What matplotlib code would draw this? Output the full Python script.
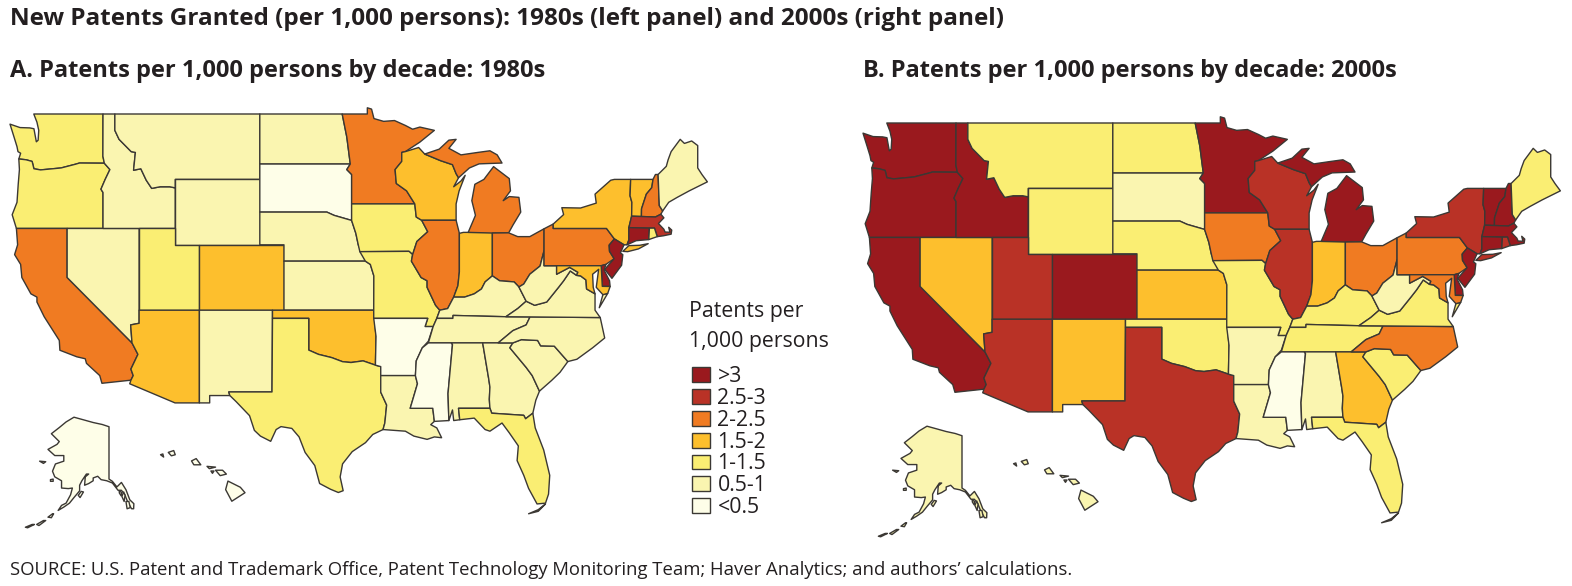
import numpy as np
import matplotlib
matplotlib.use('Agg')
import matplotlib.pyplot as plt
from matplotlib.patches import Patch

plt.rcParams['font.family'] = ['Open Sans', 'DejaVu Sans']

W, H = 1572, 586

states = ['WA', 'OR', 'CA', 'NV', 'ID', 'MT', 'WY', 'UT', 'CO', 'AZ', 'NM', 'ND', 'SD', 'NE', 'KS', 'OK', 'TX',
          'MN', 'IA', 'MO', 'AR', 'LA', 'WI', 'IL', 'IN', 'MI', 'OH', 'KY', 'TN', 'MS', 'AL', 'GA', 'FL', 'SC',
          'NC', 'VA', 'WV', 'PA', 'NY', 'VT', 'NH', 'ME', 'MA', 'CT', 'RI', 'NJ', 'DE', 'MD', 'AK', 'HI']
# only the class is visible so these are class middles
patents_1980s = [1.25, 1.25, 2.25, 0.75, 0.75, 0.75, 0.75, 1.25, 1.75, 1.75, 0.75, 0.75, 0.25, 0.75, 0.75, 1.75, 1.25,
                 2.25, 1.25, 1.25, 0.25, 0.75, 1.75, 2.25, 1.75, 2.25, 2.25, 0.75, 0.75, 0.25, 0.75, 0.75, 1.25, 0.75,
                 0.75, 0.75, 0.75, 2.25, 1.75, 1.75, 2.25, 0.75, 2.75, 3.5, 1.25, 3.5, 3.5, 1.75, 0.25, 0.25]
patents_2000s = [3.5, 3.5, 3.5, 1.75, 3.5, 1.25, 1.25, 2.75, 3.5, 2.75, 1.75, 1.25, 0.75, 1.25, 1.75, 1.25, 2.75,
                 3.5, 2.25, 1.25, 0.75, 0.75, 2.75, 2.75, 1.75, 3.5, 2.25, 1.25, 1.25, 0.25, 0.75, 1.75, 1.25, 1.25,
                 2.25, 1.25, 0.75, 2.25, 2.75, 3.5, 3.5, 1.25, 3.5, 3.5, 2.75, 3.5, 3.5, 2.25, 0.75, 0.75]

bin_edges = [0.5, 1, 1.5, 2, 2.5, 3]
bin_labels = ['<0.5', '0.5-1', '1-1.5', '1.5-2', '2-2.5', '2.5-3', '>3']
bin_colors = ['#fefee8', '#faf5b0', '#faee73', '#fdbf2d', '#f07b22', '#b93226', '#9a191e']

# state outlines, lon/lat
outlines = {
    'WA': [[(-124.73, 48.38), (-123.9, 48.17), (-123.1, 48.15), (-122.75, 48.1), (-122.55, 47.3), (-122.4, 47.4),
            (-122.35, 48.0), (-122.5, 48.5), (-122.76, 49.0), (-117.03, 49.0), (-117.04, 46.42), (-116.92, 45.99),
            (-118.98, 46.0), (-119.3, 45.93), (-120.5, 45.7), (-121.2, 45.65), (-122.2, 45.58), (-122.75, 45.65),
            (-122.9, 46.1), (-123.4, 46.2), (-124.0, 46.25), (-123.85, 46.6), (-124.07, 46.7), (-124.15, 47.0),
            (-124.4, 47.6)]],
    'OR': [[(-124.0, 46.25), (-123.4, 46.2), (-122.9, 46.1), (-122.75, 45.65), (-122.2, 45.58), (-121.2, 45.65),
            (-120.5, 45.7), (-119.3, 45.93), (-118.98, 46.0), (-116.92, 45.99), (-116.46, 45.6), (-116.85, 45.0),
            (-117.2, 44.4), (-117.03, 44.2), (-117.03, 42.0), (-124.2, 42.0), (-124.55, 42.84), (-124.15, 43.6),
            (-124.05, 44.7), (-123.95, 45.6)]],
    'CA': [[(-124.2, 42), (-120, 42), (-120, 39), (-114.63, 35.0), (-114.14, 34.3), (-114.72, 33.4), (-114.53, 33.0),
            (-114.72, 32.72), (-117.12, 32.53), (-117.3, 33.0), (-118.4, 33.75), (-118.5, 34.03), (-119.2, 34.15),
            (-120.6, 34.55), (-120.65, 35.15), (-121.9, 36.6), (-122.5, 37.5), (-122.5, 37.8), (-123.0, 38.0),
            (-123.75, 39.0), (-123.85, 39.8), (-124.35, 40.4), (-124.1, 41.0)]],
    'NV': [[(-120, 42), (-114.04, 42), (-114.04, 36.2), (-114.74, 36.1), (-114.63, 35.0), (-120, 39)]],
    'ID': [[(-117.03, 49), (-116.05, 49), (-116.05, 48.0), (-115.7, 47.45), (-114.7, 46.7), (-114.35, 46.65),
            (-114.5, 45.56), (-113.9, 45.65), (-113.45, 44.95), (-113.0, 44.45), (-112.3, 44.55), (-111.5, 44.55),
            (-111.05, 44.48), (-111.05, 42), (-117.03, 42), (-117.03, 44.2), (-117.2, 44.4), (-116.85, 45.0),
            (-116.46, 45.6), (-116.92, 45.99), (-117.04, 46.42)]],
    'MT': [[(-116.05, 49), (-104.05, 49), (-104.05, 45), (-111.05, 45), (-111.05, 44.48), (-111.5, 44.55),
            (-112.3, 44.55), (-113, 44.45), (-113.45, 44.95), (-113.9, 45.65), (-114.5, 45.56), (-114.35, 46.65),
            (-114.7, 46.7), (-115.7, 47.45), (-116.05, 48)]],
    'WY': [[(-111.05, 45), (-104.05, 45), (-104.05, 41), (-111.05, 41)]],
    'UT': [[(-114.04, 42), (-111.05, 42), (-111.05, 41), (-109.05, 41), (-109.05, 37), (-114.04, 37)]],
    'CO': [[(-109.05, 41), (-102.05, 41), (-102.05, 37), (-109.05, 37)]],
    'AZ': [[(-114.04, 37), (-109.05, 37), (-109.05, 31.33), (-111.07, 31.33), (-114.82, 32.5), (-114.72, 32.72),
            (-114.53, 33.0), (-114.72, 33.4), (-114.14, 34.3), (-114.63, 35), (-114.74, 36.1), (-114.04, 36.2)]],
    'NM': [[(-109.05, 37), (-103, 37), (-103.04, 32), (-106.62, 32), (-106.53, 31.78), (-108.2, 31.78),
            (-108.2, 31.33), (-109.05, 31.33)]],
    'ND': [[(-104.05, 49), (-97.23, 49), (-96.85, 47.6), (-96.56, 45.94), (-104.05, 45.94)]],
    'SD': [[(-104.05, 45.94), (-96.56, 45.94), (-96.85, 45.6), (-96.45, 45.3), (-96.45, 43.5), (-96.45, 42.49),
            (-97.9, 42.8), (-98.5, 43.0), (-104.05, 43)]],
    'NE': [[(-104.05, 43), (-98.5, 43), (-97.9, 42.8), (-96.45, 42.49), (-96.1, 41.7), (-95.9, 41.0), (-95.31, 40.0),
            (-102.05, 40), (-102.05, 41), (-104.05, 41)]],
    'KS': [[(-102.05, 40), (-95.31, 40), (-94.9, 39.8), (-94.61, 39.1), (-94.62, 37), (-102.05, 37)]],
    'OK': [[(-103, 37), (-94.62, 37), (-94.43, 35.4), (-94.48, 33.64), (-95.5, 33.9), (-96.5, 33.8), (-97.2, 33.85),
            (-98.1, 34.1), (-99.2, 34.3), (-100, 34.56), (-100, 36.5), (-103, 36.5)]],
    'TX': [[(-106.62, 32), (-103.04, 32), (-103, 36.5), (-100, 36.5), (-100, 34.56), (-99.2, 34.3), (-98.1, 34.1),
            (-97.2, 33.85), (-96.5, 33.8), (-95.5, 33.9), (-94.48, 33.64), (-94.04, 33.55), (-94.04, 31.99),
            (-93.55, 31.2), (-93.7, 30.1), (-93.85, 29.7), (-94.7, 29.4), (-95.3, 28.9), (-96.4, 28.35), (-97.2, 27.6),
            (-97.4, 26.8), (-97.15, 25.96), (-97.55, 25.85), (-98.2, 26.05), (-99.1, 26.4), (-99.5, 27.5),
            (-100.3, 28.3), (-100.8, 29.25), (-101.4, 29.77), (-102.3, 29.88), (-102.7, 29.7), (-103.15, 28.98),
            (-104.0, 29.3), (-104.5, 29.65), (-104.9, 30.55), (-106.0, 31.4), (-106.53, 31.78)]],
    'MN': [[(-97.23, 49), (-95.15, 49), (-95.15, 49.38), (-94.8, 49.3), (-94.6, 48.72), (-93.8, 48.55), (-92.9, 48.6),
            (-92.0, 48.3), (-91.4, 48.07), (-90.8, 48.2), (-89.6, 48.0), (-90.8, 47.28), (-92.0, 46.7),
            (-92.3, 46.65), (-92.3, 46.1), (-92.85, 45.6), (-92.75, 44.75), (-91.9, 44.3), (-91.22, 43.5),
            (-96.45, 43.5), (-96.45, 45.3), (-96.85, 45.6), (-96.56, 45.94), (-96.85, 47.6)]],
    'IA': [[(-96.45, 43.5), (-91.22, 43.5), (-91.1, 42.7), (-90.65, 42.5), (-90.15, 41.8), (-91.05, 41.2),
            (-91.4, 40.4), (-91.7, 40.6), (-95.77, 40.58), (-95.9, 41.0), (-96.1, 41.7), (-96.45, 42.49)]],
    'MO': [[(-95.77, 40.58), (-91.7, 40.6), (-91.4, 40.4), (-91.5, 40.0), (-90.7, 39.0), (-90.2, 38.8), (-90.2, 38.4),
            (-89.5, 37.3), (-89.15, 37.0), (-89.4, 36.5), (-89.7, 36.0), (-90.37, 36.0), (-90.15, 36.5),
            (-94.62, 36.5), (-94.62, 37), (-94.61, 39.1), (-94.9, 39.8), (-95.31, 40)]],
    'AR': [[(-94.62, 36.5), (-90.15, 36.5), (-90.37, 36), (-89.7, 36), (-90.1, 35.1), (-90.6, 34.7), (-91.1, 33.9),
            (-91.17, 33), (-94.04, 33), (-94.04, 33.55), (-94.48, 33.64), (-94.43, 35.4)]],
    'LA': [[(-94.04, 33), (-91.17, 33), (-91.0, 32.5), (-91.6, 31.0), (-89.73, 31), (-89.6, 30.2), (-89.9, 30.0),
            (-89.4, 29.8), (-89.0, 29.2), (-89.6, 29.25), (-90.2, 29.1), (-91.3, 29.3), (-92.0, 29.6), (-93.85, 29.7),
            (-93.7, 30.1), (-93.55, 31.2), (-94.04, 31.99)]],
    'MS': [[(-91.17, 33), (-91.1, 33.9), (-90.6, 34.7), (-90.1, 35), (-88.2, 35), (-88.1, 34.9), (-88.47, 31.9),
            (-88.4, 30.25), (-89.6, 30.2), (-89.73, 31), (-91.6, 31), (-91, 32.5)]],
    'TN': [[(-90.1, 35), (-89.7, 36), (-89.4, 36.5), (-88.07, 36.5), (-88.05, 36.68), (-83.68, 36.6), (-81.68, 36.59),
            (-82.0, 36.1), (-83.1, 35.75), (-84.32, 35)]],
    'KY': [[(-89.4, 36.5), (-89.15, 37), (-88.5, 37.1), (-88.0, 37.8), (-87.1, 37.8), (-86.3, 38.0), (-85.7, 38.3),
            (-85.4, 38.73), (-84.8, 39.1), (-84.2, 38.8), (-83.0, 38.73), (-82.6, 38.42), (-82.0, 37.55), (-82.7, 37.1),
            (-83.68, 36.6), (-88.05, 36.68), (-88.07, 36.5)]],
    'IL': [[(-90.65, 42.5), (-87.8, 42.5), (-87.53, 41.7), (-87.53, 39.35), (-87.65, 38.5), (-88.0, 37.8),
            (-88.5, 37.1), (-89.15, 37), (-89.5, 37.3), (-90.2, 38.4), (-90.2, 38.8), (-90.7, 39), (-91.5, 40),
            (-91.4, 40.4), (-91.05, 41.2), (-90.15, 41.8)]],
    'WI': [[(-92, 46.7), (-90.9, 46.95), (-90.4, 46.55), (-89.1, 46.15), (-88.1, 45.9), (-87.8, 45.35), (-87.6, 45.1),
            (-88.0, 44.55), (-87.4, 44.9), (-87.05, 45.25), (-87.55, 44.3), (-87.8, 43.5), (-87.8, 42.5),
            (-90.65, 42.5), (-91.1, 42.7), (-91.22, 43.5), (-91.9, 44.3), (-92.75, 44.75), (-92.85, 45.6),
            (-92.3, 46.1), (-92.3, 46.65)]],
    'IN': [[(-87.53, 41.7), (-87.2, 41.76), (-86.8, 41.76), (-84.8, 41.76), (-84.8, 39.1), (-85.4, 38.73), (-85.7, 38.3),
            (-86.3, 38.0), (-87.1, 37.8), (-88, 37.8), (-87.65, 38.5), (-87.53, 39.35)]],
    'OH': [[(-84.8, 41.72), (-83.45, 41.73), (-82.7, 41.5), (-81.7, 41.5), (-80.52, 41.98), (-80.52, 40.64),
            (-80.85, 39.7), (-81.7, 39.2), (-82.2, 38.6), (-82.6, 38.42), (-83, 38.73), (-84.2, 38.8), (-84.8, 39.1)]],
    'MI': [[(-86.8, 41.76), (-84.8, 41.72), (-83.45, 41.73), (-83.1, 42.2), (-82.45, 43.0), (-82.6, 43.9), (-83.4, 43.95),
            (-83.9, 43.7), (-83.3, 44.3), (-83.4, 45.05), (-84.7, 45.78), (-85.5, 45.0), (-86.25, 44.7), (-86.5, 43.7),
            (-86.2, 42.8)],
           [(-90.4, 46.55), (-89.2, 46.85), (-88.4, 47.4), (-87.8, 47.45), (-88.4, 46.9), (-87.4, 46.5), (-86.0, 46.65),
            (-85.0, 46.75), (-84.4, 46.5), (-84.0, 46.0), (-84.8, 45.98), (-85.9, 45.95), (-86.7, 45.7), (-87.6, 45.1),
            (-87.8, 45.35), (-88.1, 45.9), (-89.1, 46.15)]],
    'AL': [[(-88.2, 35), (-85.6, 35), (-85.1, 32.8), (-85.0, 32.3), (-85.05, 31.55), (-85.0, 31), (-87.6, 31),
            (-87.5, 30.3), (-88.0, 30.25), (-88.1, 30.9), (-88.4, 30.25), (-88.47, 31.9), (-88.1, 34.9)]],
    'GA': [[(-85.6, 35), (-84.32, 35), (-83.1, 35), (-83.35, 34.7), (-82.0, 33.5), (-81.5, 33.0), (-80.9, 32.05),
            (-81.2, 31.5), (-81.45, 30.7), (-82.05, 30.36), (-82.2, 30.57), (-84.85, 30.7), (-85.0, 31), (-85.05, 31.55),
            (-85, 32.3), (-85.1, 32.8)]],
    'FL': [[(-87.6, 31), (-85, 31), (-84.85, 30.7), (-82.2, 30.57), (-82.05, 30.36), (-81.45, 30.7), (-81.25, 29.8),
            (-80.55, 28.45), (-80.05, 26.9), (-80.15, 25.75), (-80.4, 25.2), (-81.1, 25.15), (-81.8, 26.1), (-82.2, 26.9),
            (-82.75, 27.8), (-82.65, 28.7), (-83.4, 29.5), (-84.0, 30.1), (-85.0, 29.6), (-85.4, 29.7), (-86.3, 30.4),
            (-87.5, 30.3)],
           [(-81.8, 24.55), (-81.0, 24.7), (-80.4, 25.15), (-81.0, 24.8)]],
    'SC': [[(-83.35, 34.7), (-83.1, 35), (-82.4, 35.2), (-81.05, 35.15), (-80.8, 34.82), (-79.67, 34.8), (-78.55, 33.86),
            (-79.2, 33.2), (-79.9, 32.7), (-80.9, 32.05), (-81.5, 33), (-82, 33.5)]],
    'NC': [[(-84.32, 35), (-83.1, 35.75), (-82, 36.1), (-81.68, 36.59), (-75.87, 36.55), (-75.5, 35.3), (-76.5, 34.7),
            (-77.8, 34), (-78.55, 33.86), (-79.67, 34.8), (-80.8, 34.82), (-81.05, 35.15), (-82.4, 35.2), (-83.1, 35)]],
    'VA': [[(-83.68, 36.6), (-81.68, 36.59), (-75.87, 36.55), (-76.3, 37.0), (-76.3, 37.6), (-76.3, 38.0), (-77.0, 38.3),
            (-77.05, 38.85), (-77.5, 39.1), (-77.83, 39.13), (-78.35, 39.4), (-78.9, 38.8), (-79.3, 38.42), (-80.3, 37.5),
            (-81.3, 37.3), (-82, 37.55), (-82.7, 37.1)],
           [(-75.95, 37.15), (-75.25, 38.03), (-75.65, 37.95)]],
    'WV': [[(-82.6, 38.42), (-82.2, 38.6), (-81.7, 39.2), (-80.85, 39.7), (-80.52, 40.64), (-80.52, 39.72), (-79.48, 39.72),
            (-79.48, 39.2), (-78.4, 39.62), (-77.72, 39.32), (-77.83, 39.13), (-78.35, 39.4), (-78.9, 38.8), (-79.3, 38.42),
            (-80.3, 37.5), (-81.3, 37.3), (-82, 37.55)]],
    'PA': [[(-80.52, 41.98), (-79.76, 42.27), (-79.76, 42), (-75.35, 42), (-74.7, 41.36), (-75.13, 40.98), (-75.1, 40.6),
            (-74.72, 40.15), (-75.4, 39.8), (-75.79, 39.72), (-80.52, 39.72), (-80.52, 40.64)]],
    'MD': [[(-79.48, 39.72), (-75.79, 39.72), (-75.7, 38.46), (-75.05, 38.45), (-75.25, 38.03), (-75.65, 37.95),
            (-76.2, 38.4), (-76.0, 39.5), (-76.5, 39.2), (-76.45, 38.4), (-76.3, 38.0), (-77.0, 38.3), (-77.05, 38.85),
            (-77.5, 39.1), (-77.83, 39.13), (-77.72, 39.32), (-78.4, 39.62), (-79.48, 39.2)]],
    'DE': [[(-75.79, 39.72), (-75.4, 39.8), (-75.55, 39.45), (-75.1, 38.8), (-75.05, 38.45), (-75.7, 38.46)]],
    'NJ': [[(-75.13, 40.98), (-74.7, 41.36), (-73.9, 41.0), (-74.2, 40.5), (-74.0, 40.4), (-74.1, 39.75), (-74.9, 38.95),
            (-75.5, 39.5), (-74.72, 40.15), (-75.1, 40.6)]],
    'NY': [[(-79.76, 42.27), (-78.9, 42.85), (-79.05, 43.27), (-77.5, 43.25), (-76.2, 43.55), (-76.3, 44.1), (-75.0, 44.95),
            (-74.7, 45), (-73.35, 45), (-73.4, 44), (-73.25, 43.6), (-73.27, 42.75), (-73.5, 42.05), (-73.5, 41.3),
            (-73.65, 41.0), (-73.9, 41.0), (-74.7, 41.36), (-75.35, 42), (-79.76, 42)],
           [(-74.0, 40.6), (-73.5, 40.95), (-72.6, 40.97), (-71.9, 41.07), (-72.7, 40.75), (-73.6, 40.58)]],
    'CT': [[(-73.5, 42.05), (-71.8, 42.02), (-71.85, 41.32), (-72.9, 41.25), (-73.65, 41.0), (-73.5, 41.3)]],
    'RI': [[(-71.8, 42.02), (-71.38, 42.02), (-71.15, 41.5), (-71.85, 41.32)]],
    'MA': [[(-73.5, 42.05), (-73.27, 42.75), (-71.3, 42.7), (-70.85, 42.87), (-70.6, 42.65), (-71.05, 42.3), (-70.6, 41.95),
            (-70.5, 41.78), (-70.1, 41.77), (-70.2, 42.07), (-69.95, 41.9), (-70.0, 41.65), (-70.65, 41.55), (-71.15, 41.5),
            (-71.38, 42.02), (-71.8, 42.02)]],
    'VT': [[(-73.35, 45), (-71.5, 45), (-71.6, 44.5), (-72.05, 44.1), (-72.45, 43.2), (-72.46, 42.73), (-73.27, 42.75),
            (-73.25, 43.6), (-73.4, 44)]],
    'NH': [[(-71.5, 45), (-71.3, 45.3), (-71.08, 45.3), (-70.98, 43.4), (-70.7, 43.07), (-70.85, 42.87), (-71.3, 42.7),
            (-72.46, 42.73), (-72.45, 43.2), (-72.05, 44.1), (-71.6, 44.5)]],
    'ME': [[(-71.08, 45.3), (-70.4, 45.8), (-70.25, 46.2), (-70.0, 46.7), (-69.25, 47.45), (-68.9, 47.2), (-68.3, 47.35),
            (-67.8, 47.07), (-67.8, 45.7), (-67.45, 45.3), (-67.0, 44.85), (-68.5, 44.3), (-69.5, 43.9), (-70.2, 43.6),
            (-70.7, 43.07), (-70.98, 43.4)]],
    'AK': [[(-141, 69.65), (-141, 60.3), (-139.5, 59.9), (-137.5, 58.9), (-135.5, 59.7), (-133.5, 58.4), (-131.8, 56.6),
            (-130, 55.9), (-130.1, 55.0), (-131, 55), (-132.5, 56), (-134, 57.5), (-135.5, 58.3), (-137, 58.3),
            (-139.5, 59.6), (-142, 60), (-144.5, 60.2), (-146, 60.8), (-148, 60.5), (-148, 60.0), (-150, 59.5),
            (-151.8, 59.2), (-151.5, 60.7), (-150, 61.2), (-151, 61.2), (-153, 60), (-154, 59.2), (-154, 58.2),
            (-156.5, 57.0), (-158.5, 56), (-161, 55.3), (-163.5, 54.7), (-162, 55.6), (-160, 56), (-158, 57.5),
            (-157.2, 58.7), (-159, 58.6), (-162, 58.7), (-162, 60), (-165, 60.7), (-166, 61.7), (-164.7, 63),
            (-161, 63.5), (-161, 64.5), (-165, 64.5), (-168, 65.6), (-164, 66.5), (-163, 67.0), (-166.5, 68.4),
            (-163, 69.5), (-160, 70.5), (-156.5, 71.35), (-152, 70.85), (-148, 70.4), (-144, 70.05)],
           [(-154.6, 57.4), (-153.3, 58.1), (-152.3, 58.0), (-153.8, 57)],
           [(-166.9, 60.2), (-165.7, 60.3), (-165.7, 59.9), (-166.9, 59.9)],
           [(-171.7, 63.5), (-169, 63.4), (-170, 63.1)],
           [(-168, 53.5), (-166, 54.1), (-165.5, 54.1), (-166.5, 53.4)],
           [(-173, 52.2), (-170, 52.9), (-169, 52.9), (-172, 52)],
           [(-178, 51.7), (-175, 52.2), (-174, 52.2), (-177, 51.6)],
           [(-134.5, 58), (-133.9, 57.4), (-134.3, 56.3), (-135.3, 57.2)],
           [(-133.5, 56.3), (-132.2, 56.3), (-131.6, 55.2), (-133, 55)],
           [(-136.5, 58.2), (-135.4, 57.9), (-135.6, 57.3), (-136.4, 57.8)]],
    'HI': [[(-155.9, 20.25), (-155.1, 19.85), (-154.8, 19.5), (-155.65, 18.95), (-156.05, 19.7)],
           [(-156.7, 20.95), (-156.25, 20.95), (-156.0, 20.7), (-156.4, 20.6)],
           [(-157.25, 21.2), (-156.7, 21.15), (-157.1, 21.05)],
           [(-158.25, 21.55), (-157.95, 21.7), (-157.65, 21.3), (-158.1, 21.3)],
           [(-159.75, 22.1), (-159.4, 22.22), (-159.3, 21.95), (-159.55, 21.88)],
           [(-160.25, 21.95), (-160.1, 22.0), (-160.05, 21.8)],
           [(-157.0, 20.9), (-156.8, 20.9), (-156.9, 20.75)]],
}

# pixel layout of each map, (lon0, lat0, px per degree lon, px per degree lat)
LOWER48 = (-124.73, 49.0, 12.08, 16.35)
ALASKA = (-141.0, 69.6, 2.26, 5.6)
HAWAII = (-154.8, 18.9, 15.5, 15.5)


def map_axes(fig, x0, y0, scale, lon_lim, lat_lim):
    lon0, lat0, sx, sy = scale
    left = x0 + (lon_lim[0] - lon0) * sx
    right = x0 + (lon_lim[1] - lon0) * sx
    top = y0 + (lat0 - lat_lim[1]) * sy
    bottom = y0 + (lat0 - lat_lim[0]) * sy
    ax = fig.add_axes([left / W, 1 - bottom / H, (right - left) / W, (bottom - top) / H])
    ax.set_xlim(*lon_lim)
    ax.set_ylim(*lat_lim)
    ax.axis('off')
    return ax


def draw_states(ax, names, values):
    for name in names:
        value = values[states.index(name)]
        color = bin_colors[np.digitize(value, bin_edges)]
        for part in outlines[name]:
            lon = [p[0] for p in part]
            lat = [p[1] for p in part]
            ax.fill(lon, lat, facecolor=color, edgecolor='#3b3834', linewidth=1.0, joinstyle='round', clip_on=False)


def draw_panel(fig, dx, dy, values):
    lower48 = [s for s in states if s not in ('AK', 'HI')]
    ax = map_axes(fig, 10 + dx, 114 + dy, LOWER48, (-126, -66), (24, 50))
    draw_states(ax, lower48, values)
    ax = map_axes(fig, 962 - 853 + dx, 427 + dy, ALASKA, (-180, -129), (51, 72))
    draw_states(ax, ['AK'], values)
    ax = map_axes(fig, 1098 - 853 + dx, 502 + dy, HAWAII, (-161, -154), (18, 23))
    draw_states(ax, ['HI'], values)


fig = plt.figure(figsize=(W / 100, H / 100), dpi=100)

draw_panel(fig, 0, 0, patents_1980s)
draw_panel(fig, 853, 9, patents_2000s)

fig.text(10 / W, 1 - 19 / H, 'New Patents Granted (per 1,000 persons): 1980s (left panel) and 2000s (right panel)',
         fontsize=17.45, fontweight='bold', color='#231f20', va='center')
fig.text(10 / W, 1 - 71 / H, 'A. Patents per 1,000 persons by decade: 1980s',
         fontsize=17.05, fontweight='bold', color='#231f20', va='center')
fig.text(863 / W, 1 - 71 / H, 'B. Patents per 1,000 persons by decade: 2000s',
         fontsize=17.05, fontweight='bold', color='#231f20', va='center')
fig.text(10 / W, 1 - 570 / H,
         'SOURCE: U.S. Patent and Trademark Office, Patent Technology Monitoring Team; Haver Analytics; and authors\u2019 calculations.',
         fontsize=13.3, color='#231f20', va='center')

fig.text(689 / W, 1 - 312 / H, 'Patents per', fontsize=15.3, color='#231f20', va='center')
fig.text(689 / W, 1 - 342 / H, '1,000 persons', fontsize=15.3, color='#231f20', va='center')

handles = [Patch(facecolor=c, edgecolor='#3b3834', linewidth=1.0) for c in bin_colors[::-1]]
fig.legend(handles, bin_labels[::-1], loc='upper left', bbox_to_anchor=(692 / W, 1 - 366 / H), frameon=False,
           fontsize=15.3, labelcolor='#231f20', handlelength=0.85, handleheight=0.7, handletextpad=0.35,
           labelspacing=0.04, borderpad=0, borderaxespad=0)

fig.savefig('out.png', dpi=100, facecolor='white')
